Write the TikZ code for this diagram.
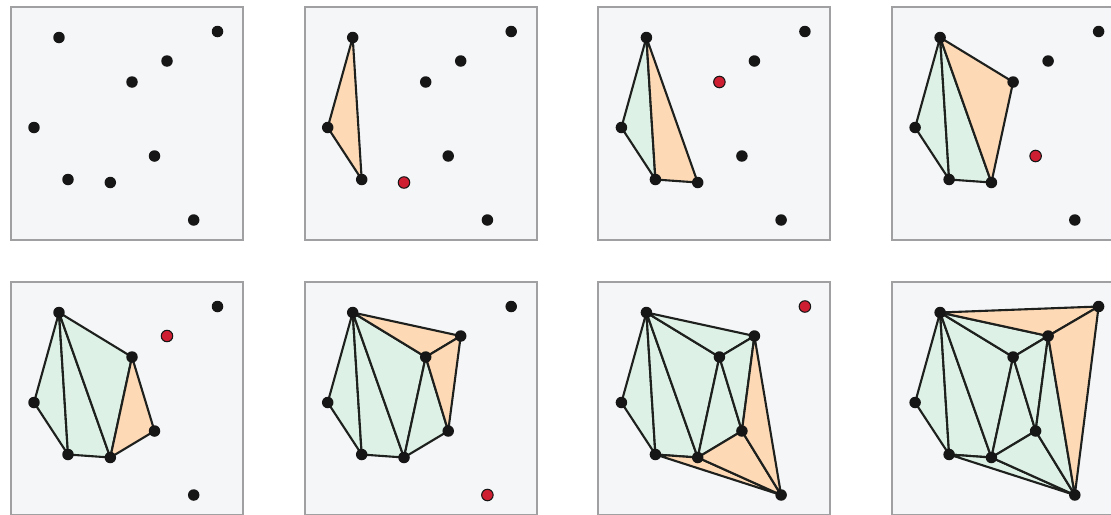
\documentclass[tikz,border=0pt]{standalone}
\definecolor{panelbg}{RGB}{245,246,248}
\definecolor{framegray}{RGB}{160,160,162}
\definecolor{edgeblack}{RGB}{30,32,30}
\definecolor{oldgreen}{RGB}{221,241,230}
\definecolor{neworange}{RGB}{253,217,181}
\definecolor{dotblack}{RGB}{22,22,22}
\definecolor{insertred}{RGB}{205,30,50}
\tikzset{
  frame/.style={draw=framegray, line width=1.1pt, fill=panelbg},
  old/.style={draw=edgeblack, line width=1.2pt, line join=round, fill=oldgreen},
  new/.style={old, fill=neworange},
  dot/.style={circle, fill=dotblack, inner sep=0pt, minimum size=0.23cm},
  newdot/.style={dot, fill=insertred, draw=dotblack, line width=0.6pt},
}

\begin{document}
\begin{tikzpicture}[x=0.02cm, y=-0.02cm]
  \useasboundingbox (0,0) rectangle (1111,514);
  \clip (0,0) rectangle (1111,514);
  % frames and point positions
  \foreach \p/\ox/\oy in {1/11/7, 2/304.7/7, 3/598.4/7, 4/892.1/7, 5/11/282, 6/304.7/282, 7/598.4/282, 8/892.1/282} {
    \draw[frame] (\ox,\oy) rectangle +(232,233);
    \foreach \n/\x/\y in {a/48/30.5, b/206.5/24.5, c/156/54, d/121/75, e/23/120.5, f/143.5/149, g/57/172.5, h/99.3/175.5, i/182.7/213}
      \coordinate (\n\p) at (\ox+\x,\oy+\y);
  }
  % triangles, the ones added in this step in orange
  \foreach \p/\from/\upto in {2/1/1, 3/2/2, 4/3/3, 5/4/4, 6/5/6, 7/7/9, 8/10/11}
    \foreach \a/\b/\c [count=\k] in {a/e/g, a/g/h, a/h/d, d/h/f, a/d/c, d/f/c, g/h/i, h/f/i, f/c/i, a/b/c, c/b/i} {
      \ifnum\k>\upto\else
        \ifnum\k<\from \def\tristyle{old}\else \def\tristyle{new}\fi
        \filldraw[\tristyle] (\a\p) -- (\b\p) -- (\c\p) -- cycle;
      \fi
    }
  % points, the one inserted next in red
  \foreach \p/\nxt in {1/x, 2/h, 3/d, 4/f, 5/c, 6/i, 7/b, 8/x}
    \foreach \n in {a,b,c,d,e,f,g,h,i} {
      \def\ptstyle{dot}
      \ifx\n\nxt \def\ptstyle{newdot}\fi
      \node[\ptstyle] (\n\p-pt) at (\n\p) {};
    }
\end{tikzpicture}
\end{document}
